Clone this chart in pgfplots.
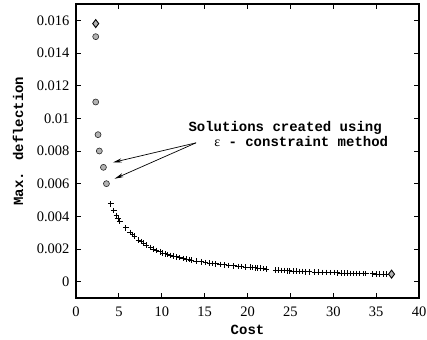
\documentclass[border=0pt]{standalone}
\usepackage{fontspec}
\setmainfont{Liberation Serif}
\setmonofont{Liberation Mono}
\newfontfamily\tickfont{Liberation Serif}
\newfontfamily\labfont{Liberation Mono}
\usepackage{pgfplots}
\pgfplotsset{compat=1.18}
\usetikzlibrary{arrows.meta}
\begin{document}
\begin{tikzpicture}
\begin{axis}[
  at={(0pt,0pt)}, anchor=south west,
  scale only axis,
  width=343pt, height=294pt,
  xmin=0, xmax=40, ymin=-0.001, ymax=0.017,
  xtick={0,5,...,40},
  xticklabels={0,5,10,15,20,25,30,35,40},
  ytick={0,0.002,0.004,0.006,0.008,0.01,0.012,0.014,0.016},
  yticklabels={0,0.002,0.004,0.006,0.008,0.01,0.012,0.014,0.016},
  scaled y ticks=false,
  tick align=inside,
  major tick length=5pt,
  axis line style={line width=1.1pt},
  every tick/.style={line width=0.9pt,black},
  /pgf/number format/assume math mode=true,
  ticklabel style={font=\tickfont\fontsize{14.5}{14.5}\selectfont},
  yticklabel style={anchor=east, xshift=-3pt},
  xticklabel style={anchor=center, yshift=-14pt},
  label style={font=\labfont\bfseries\fontsize{14}{14}\selectfont},
  xlabel={Cost},
  ylabel={Max. deflection},
  xlabel style={at={(axis description cs:0.5,-0.109)}, anchor=center},
  ylabel style={at={(axis description cs:-0.169,0.534)}, anchor=center, rotate=0},
  clip=false,
]
% epsilon-constraint solutions
\addplot[only marks, mark=*, mark size=3pt, mark options={fill=black!30, draw=black!85, line width=0.6pt}]
coordinates {(2.3,0.0150) (2.3,0.0110) (2.57,0.0090) (2.72,0.0080) (3.2,0.0070) (3.55,0.0060)};
% pareto front crosses
\addplot[only marks, mark=+, mark size=2.8pt, mark options={line width=0.8pt, black}]
coordinates {
(4.05,0.00477) (4.4,0.00435) (4.7,0.00405) (4.9,0.0039) (5.1,0.0037)
(5.8,0.0033) (6.3,0.0030) (6.6,0.0029) (6.8,0.0028) (7.3,0.00255)
(7.6,0.00245) (7.9,0.00235) (8.2,0.00225) (8.7,0.0021) (9.0,0.0020)
(9.4,0.00192) (9.8,0.00183) (10.1,0.00176) (10.4,0.00171) (10.7,0.00166)
(11.0,0.00161) (11.4,0.00156) (11.7,0.00152) (12.1,0.00147) (12.5,0.00143)
(12.9,0.00138) (13.2,0.00135) (13.4,0.00133) (14.0,0.00127) (14.6,0.00122)
(15.1,0.00117) (15.6,0.00114) (15.9,0.00112) (16.3,0.00109) (16.8,0.00106)
(17.3,0.00103) (17.8,0.00100) (18.4,0.00097) (18.9,0.00094) (19.3,0.00092)
(19.8,0.00090) (20.3,0.00088) (20.6,0.00087) (20.9,0.00085) (21.2,0.00083)
(21.5,0.00082) (21.9,0.00080) (22.2,0.00078) (23.3,0.00072) (23.6,0.00071)
(24.0,0.00069) (24.3,0.00068) (24.6,0.00067) (24.9,0.00066) (25.3,0.00065)
(25.7,0.00064) (26.0,0.00063) (26.4,0.00062) (26.7,0.00061) (27.2,0.00060)
(27.8,0.00059) (28.3,0.00058) (28.7,0.00057) (29.2,0.00056) (29.7,0.00055)
(30.1,0.00055) (30.5,0.00054) (30.9,0.00053) (31.3,0.00053) (31.6,0.00052)
(32.0,0.00051) (32.3,0.00051) (32.7,0.00050) (33.1,0.00050) (33.5,0.00049)
(33.8,0.00049) (34.6,0.00048) (35.0,0.00047) (35.4,0.00047) (35.8,0.00046)
(36.2,0.00046)
};
% extreme solutions
\addplot[only marks, mark=diamond*, mark size=4pt, mark options={fill=black!30, draw=black, line width=0.9pt}]
coordinates {(2.3,0.0158) (36.8,0.00046)};
\node[font=\labfont\bfseries\fontsize{14}{14}\selectfont, anchor=base west, inner sep=0pt] at (axis cs:13.1,0.0092) {Solutions created using};
\node[font=\labfont\bfseries\fontsize{14}{14}\selectfont, anchor=base west, inner sep=0pt] at (axis cs:16.1,0.00826) {{\tickfont\mdseries ε} - constraint method};
\draw[-{Stealth[length=9pt,width=4pt]}, line width=0.7pt] (axis cs:14.0,0.0085) -- (axis cs:4.3,0.0073);
\draw[-{Stealth[length=9pt,width=4pt]}, line width=0.7pt] (axis cs:14.0,0.0085) -- (axis cs:4.5,0.0063);
\end{axis}
\pgfresetboundingbox
\path[use as bounding box] (-76pt,-41pt) rectangle (351pt,298pt);
\end{tikzpicture}
\end{document}
